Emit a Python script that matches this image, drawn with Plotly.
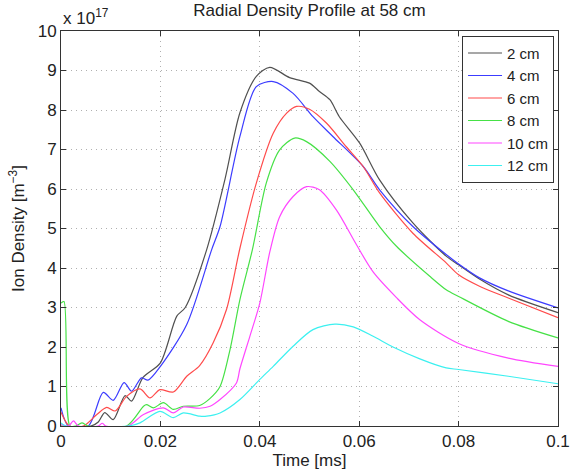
import plotly.graph_objects as go

# ---- data (time in ms, density in units of 1e17 m^-3) ----
labels = ["2 cm", "4 cm", "6 cm", "8 cm", "10 cm", "12 cm"]

t_2cm = [0, 0.006, 0.0075, 0.0088, 0.0105, 0.0129, 0.0142, 0.0165, 0.02, 0.0233, 0.025, 0.0293,
         0.033, 0.036, 0.0393, 0.042, 0.046, 0.050, 0.052, 0.0541, 0.056, 0.0601, 0.0641, 0.0708,
         0.0775, 0.08, 0.0842, 0.09, 0.1]
n_2cm = [0, 0, 0.1, 0.34, 0.16, 0.77, 0.63, 1.23, 1.6, 2.78, 3.0, 4.46,
         6.25, 7.93, 8.85, 9.08, 8.82, 8.68, 8.47, 8.26, 7.83, 7.16, 6.23, 5.14,
         4.3, 4.08, 3.72, 3.32, 2.87]

t_4cm = [0, 0.0015, 0.0055, 0.0085, 0.0105, 0.0127, 0.0142, 0.0162, 0.0175, 0.02, 0.0253, 0.0303,
         0.032, 0.036, 0.0393, 0.0427, 0.0467, 0.0507, 0.0547, 0.0608, 0.0641, 0.0708, 0.0775,
         0.08, 0.0842, 0.09, 0.1]
n_4cm = [0.46, 0, 0, 0.85, 0.65, 1.1, 0.88, 1.22, 1.16, 1.51, 2.57, 4.46,
         5.05, 7.33, 8.59, 8.72, 8.42, 7.83, 7.33, 6.57, 5.98, 5.05, 4.34,
         4.1, 3.75, 3.42, 2.99]

t_6cm = [0, 0.0017, 0.0045, 0.0072, 0.0092, 0.0109, 0.0132, 0.0159, 0.0179, 0.0199, 0.0226, 0.0253,
         0.0279, 0.0306, 0.0333, 0.036, 0.0393, 0.0427, 0.0454, 0.0474, 0.05, 0.0534, 0.0574,
         0.0608, 0.0641, 0.0708, 0.0775, 0.08, 0.0842, 0.09, 0.1]
n_6cm = [0.35, 0, 0, 0.29, 0.47, 0.38, 0.75, 0.94, 0.71, 0.92, 0.86, 1.26,
         1.53, 2.1, 2.95, 4.5, 6.15, 7.41, 7.92, 8.09, 8.02, 7.67, 7.07,
         6.57, 5.9, 4.88, 4.13, 3.83, 3.54, 3.24, 2.74]

t_8cm = [0, 0.0006, 0.0018, 0.003, 0.0042, 0.0055, 0.0132, 0.0166, 0.0172, 0.0186, 0.0206, 0.0226,
         0.0246, 0.0279, 0.030, 0.032, 0.034, 0.036, 0.0385, 0.0413, 0.044, 0.047, 0.0494, 0.0541,
         0.0588, 0.0641, 0.0675, 0.0742, 0.0775, 0.08, 0.09, 0.1]
n_8cm = [3.11, 3.15, 0, 0, 0.08, 0, 0, 0.5, 0.54, 0.46, 0.59, 0.42,
         0.5, 0.52, 0.7, 1.0, 1.93, 3.2, 4.46, 6.15, 6.99, 7.29, 7.2, 6.7,
         5.98, 5.05, 4.55, 3.79, 3.45, 3.28, 2.65, 2.23]

t_10cm = [0, 0.0015, 0.0025, 0.0035, 0.0075, 0.0083, 0.009, 0.0135, 0.0166, 0.0206, 0.0226, 0.0246,
          0.0279, 0.030, 0.032, 0.0353, 0.036, 0.038, 0.040, 0.042, 0.044, 0.0467, 0.0494, 0.052,
          0.0554, 0.0594, 0.0628, 0.0675, 0.0722, 0.08, 0.09, 0.1]
n_10cm = [0.05, 0, 0.13, 0, 0, 0.07, 0, 0, 0.29, 0.46, 0.33, 0.48,
          0.45, 0.5, 0.67, 1.09, 1.45, 2.27, 3.11, 4.4, 5.3, 5.81, 6.06, 5.98,
          5.47, 4.6, 3.9, 3.25, 2.69, 2.09, 1.72, 1.51]

t_12cm = [0, 0.001, 0.0135, 0.0159, 0.0199, 0.0226, 0.0246, 0.0279, 0.0293, 0.032, 0.036, 0.040,
          0.0427, 0.0467, 0.0507, 0.0551, 0.0588, 0.0628, 0.0668, 0.0722, 0.0775, 0.08, 0.09, 0.1]
n_12cm = [0.08, 0, 0, 0.08, 0.37, 0.21, 0.33, 0.25, 0.25, 0.33, 0.67, 1.18,
          1.51, 2.02, 2.44, 2.58, 2.51, 2.27, 2.0, 1.7, 1.47, 1.43, 1.26, 1.07]

series_t = [t_2cm, t_4cm, t_6cm, t_8cm, t_10cm, t_12cm]
series_n = [n_2cm, n_4cm, n_6cm, n_8cm, n_10cm, n_12cm]
colors = ["rgb(80,80,80)", "rgb(60,60,255)", "rgb(255,75,75)",
          "rgb(70,225,70)", "rgb(255,70,255)", "rgb(60,240,240)"]

x_ticks = [0, 0.02, 0.04, 0.06, 0.08, 0.1]
x_ticktext = ["0", "0.02", "0.04", "0.06", "0.08", "0.1"]
y_ticks = list(range(0, 11))

FONT = "Liberation Sans, Arial, Helvetica, sans-serif"
TXT = "#222222"

fig = go.Figure()
for lab, t, n, c in zip(labels, series_t, series_n, colors):
    fig.add_trace(go.Scatter(x=t, y=n, mode="lines", name=lab,
                             line=dict(color=c, width=1.2, shape="spline", smoothing=0.8)))

axis_common = dict(
    showline=True, linecolor="#333333", linewidth=1, mirror="ticks",
    ticks="inside", ticklen=5, tickcolor="#333333",
    showgrid=True, gridcolor="#b0b0b0", griddash="1px,4px", gridwidth=1,
    zeroline=False, tickfont=dict(family=FONT, size=17, color=TXT),
    automargin=False,
)

fig.update_xaxes(range=[0, 0.1], tickvals=x_ticks, ticktext=x_ticktext,
                 title=dict(text="Time [ms]", font=dict(family=FONT, size=17, color=TXT), standoff=2),
                 **axis_common)
fig.update_yaxes(range=[0, 10], tickvals=y_ticks,
                 title=dict(text="Ion Density [m<sup>−3</sup>]", font=dict(family=FONT, size=17, color=TXT),
                            standoff=8),
                 **axis_common)

fig.add_annotation(text="x 10<sup>17</sup>", xref="paper", yref="paper", x=0, y=1.0,
                   xanchor="left", yanchor="bottom", showarrow=False, yshift=1,
                   font=dict(family=FONT, size=17, color=TXT))

fig.update_layout(
    width=571, height=473,
    margin=dict(l=61, r=13, t=31, b=47),
    paper_bgcolor="white", plot_bgcolor="white",
    title=dict(text="Radial Density Profile at 58 cm", x=0.542, xanchor="center",
               y=0.978, yanchor="middle", font=dict(family=FONT, size=17, color=TXT)),
    legend=dict(x=0.992, y=0.988, xanchor="right", yanchor="top",
                bgcolor="white", bordercolor="#333333", borderwidth=1,
                font=dict(family=FONT, size=15, color=TXT),
                itemwidth=34, tracegroupgap=0),
    showlegend=True,
)

fig.write_html("out.html")
